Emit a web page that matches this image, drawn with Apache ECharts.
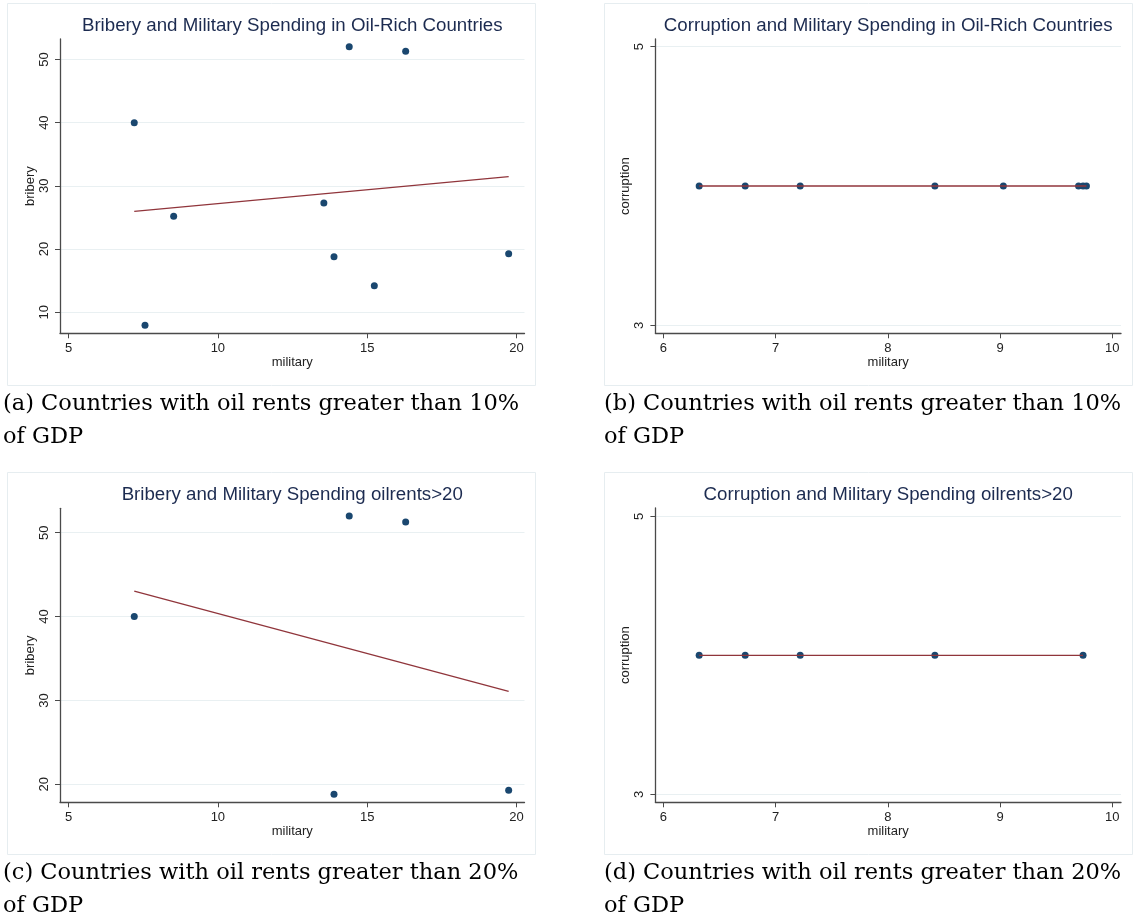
<!DOCTYPE html>
<html>
<head>
<meta charset="utf-8">
<script src="https://cdn.jsdelivr.net/npm/echarts@6/dist/echarts.min.js"></script>
<style>
html,body{margin:0;padding:0;background:#fff;}
#chart{width:1140px;height:919px;}
</style>
</head>
<body>
<div id="chart"></div>
<script>
// ---------- data ----------
const panelTitles = [
  'Bribery and Military Spending in Oil-Rich Countries',
  'Corruption and Military Spending in Oil-Rich Countries',
  'Bribery and Military Spending oilrents>20',
  'Corruption and Military Spending oilrents>20'
];
const captionLine1 = [
  '(a) Countries with oil rents greater than 10%',
  '(b) Countries with oil rents greater than 10%',
  '(c) Countries with oil rents greater than 20%',
  '(d) Countries with oil rents greater than 20%'
];
const captionLine2 = ['of GDP', 'of GDP', 'of GDP', 'of GDP'];
const xName = 'military';
const yNames = ['bribery', 'corruption', 'bribery', 'corruption'];

// panel (a)
const militaryA = [7.2, 7.56, 8.52, 13.55, 13.89, 14.4, 15.24, 16.29, 19.74];
const briberyA  = [40, 7.94, 25.17, 27.28, 18.78, 52.0, 14.2, 51.3, 19.26];
const fitXA = [7.2, 19.74];
const fitYA = [25.96, 31.47];
// panel (b)
const militaryB   = [6.32, 6.73, 7.22, 8.42, 9.03, 9.70, 9.74, 9.77];
const corruptionB = [4, 4, 4, 4, 4, 4, 4, 4];
const fitXB = [6.32, 9.77];
const fitYB = [4, 4];
// panel (c)
const militaryC = [7.2, 13.89, 14.4, 16.29, 19.74];
const briberyC  = [40, 18.8, 52.0, 51.27, 19.28];
const fitXC = [7.2, 19.74];
const fitYC = [43.03, 31.07];
// panel (d)
const militaryD   = [6.32, 6.73, 7.22, 8.42, 9.74];
const corruptionD = [4, 4, 4, 4, 4];
const fitXD = [6.32, 9.74];
const fitYD = [4, 4];

// tick labels
const xTicksBribery = [5, 10, 15, 20];
const yTicksA = [10, 20, 30, 40, 50];
const yTicksC = [20, 30, 40, 50];
const xTicksCorr = [6, 7, 8, 9, 10];
const yTicksCorr = [3, 5];

// ---------- build ----------
const zip = (a, b) => a.map((v, i) => [v, b[i]]);
const FONT = 'Liberation Sans, Arial, sans-serif';
const AXIS_COLOR = '#4a4a4a';
const GRID_COLOR = '#e9f0f2';
const NAVY = '#1a476f';
const MAROON = '#90353b';
const TITLE_COLOR = '#1c2b50';

const panels = [
  { grid: {left: 60, top: 39, width: 464.5, height: 294.3}, xr: [4.713, 20.27], yr: [6.67, 53.23],
    xt: xTicksBribery, yt: yTicksA, pts: zip(militaryA, briberyA), fit: zip(fitXA, fitYA) },
  { grid: {left: 655.4, top: 39, width: 465.6, height: 294.3}, xr: [5.93, 10.078], yr: [2.9425, 5.055],
    xt: xTicksCorr, yt: yTicksCorr, pts: zip(militaryB, corruptionB), fit: zip(fitXB, fitYB) },
  { grid: {left: 60, top: 508.3, width: 464.5, height: 294}, xr: [4.713, 20.27], yr: [17.85, 52.91],
    xt: xTicksBribery, yt: yTicksC, pts: zip(militaryC, briberyC), fit: zip(fitXC, fitYC) },
  { grid: {left: 655.4, top: 508, width: 465.6, height: 294.3}, xr: [5.93, 10.078], yr: [2.943, 5.06],
    xt: xTicksCorr, yt: yTicksCorr, pts: zip(militaryD, corruptionD), fit: zip(fitXD, fitYD) }
];

const frames = [
  {x: 7, y: 3, w: 528, h: 382},
  {x: 604, y: 3, w: 528, h: 382},
  {x: 7, y: 472, w: 528, h: 382},
  {x: 604, y: 472, w: 528, h: 382}
];
const captionPos = [
  {x: 3, y: 388}, {x: 604, y: 388}, {x: 3, y: 857}, {x: 604, y: 857}
];

const option = {
  animation: false,
  backgroundColor: '#ffffff',
  title: panels.map((p, i) => ({
    text: panelTitles[i],
    left: p.grid.left + p.grid.width / 2,
    textAlign: 'center',
    top: p.grid.top - 23,
    padding: 0,
    textStyle: {fontFamily: FONT, fontSize: 18.7, fontWeight: 'normal', color: TITLE_COLOR}
  })),
  grid: panels.map(p => Object.assign({containLabel: false}, p.grid)),
  xAxis: panels.map((p, i) => ({
    type: 'value', gridIndex: i, min: p.xr[0], max: p.xr[1],
    name: xName, nameLocation: 'middle', nameGap: 23,
    nameTextStyle: {fontFamily: FONT, fontSize: 13, color: '#222'},
    axisLine: {show: true, onZero: false, lineStyle: {color: AXIS_COLOR, width: 1.3}},
    axisTick: {show: true, length: 5, customValues: p.xt, lineStyle: {color: AXIS_COLOR}},
    axisLabel: {customValues: p.xt, fontFamily: FONT, fontSize: 13, color: '#222', margin: 9},
    splitLine: {show: false}
  })),
  yAxis: panels.map((p, i) => ({
    type: 'value', gridIndex: i, min: p.yr[0], max: p.yr[1],
    name: yNames[i], nameLocation: 'middle', nameGap: 23,
    nameTextStyle: {fontFamily: FONT, fontSize: 13, color: '#222'},
    axisLine: {show: true, onZero: false, lineStyle: {color: AXIS_COLOR, width: 1.3}},
    axisTick: {show: true, length: 5, customValues: p.yt, lineStyle: {color: AXIS_COLOR}},
    axisLabel: {customValues: p.yt, rotate: 90, fontFamily: FONT, fontSize: 13, color: '#222', margin: 9},
    splitLine: {show: true, lineStyle: {color: GRID_COLOR, width: 1}}
  })),
  series: panels.flatMap((p, i) => [
    { type: 'scatter', xAxisIndex: i, yAxisIndex: i, data: p.pts, symbol: 'circle', symbolSize: 7,
      itemStyle: {color: NAVY, opacity: 1}, z: 3 },
    { type: 'line', xAxisIndex: i, yAxisIndex: i, data: p.fit, showSymbol: false, symbol: 'none',
      lineStyle: {color: MAROON, width: 1.3}, z: 4 }
  ]),
  graphic: [
    ...frames.map(f => ({
      type: 'rect', silent: true, z: -10,
      shape: {x: f.x + 0.5, y: f.y + 0.5, width: f.w, height: f.h},
      style: {fill: null, stroke: '#e6edf0', lineWidth: 1}
    })),
    ...captionPos.map((c, i) => ({
      type: 'text', silent: true,
      x: c.x, y: c.y,
      style: {
        text: captionLine1[i] + '\n' + captionLine2[i],
        font: '22.5px "DejaVu Serif", serif',
        fill: '#000', lineHeight: 33, textVerticalAlign: 'top'
      }
    }))
  ]
};

const chart = echarts.init(document.getElementById('chart'), null, {renderer: 'canvas'});
chart.setOption(option);
</script>
</body>
</html>
